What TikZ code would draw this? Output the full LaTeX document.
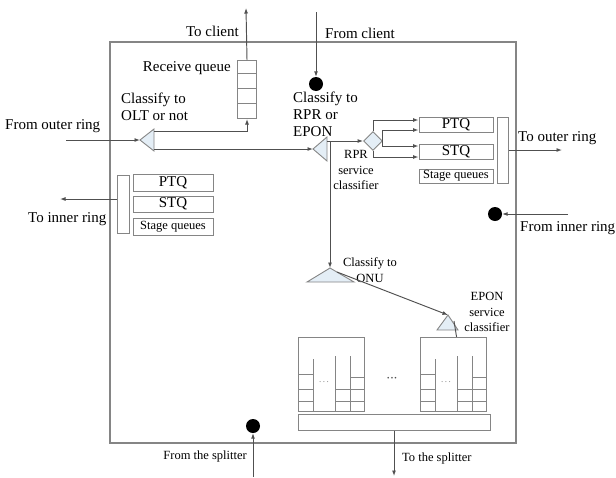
\documentclass[tikz,border=0pt]{standalone}
\usepackage{fontspec}
\setmainfont{Liberation Serif}
\newfontfamily\tnr{Liberation Serif}
\usetikzlibrary{arrows.meta,shapes.geometric}
\definecolor{edge}{HTML}{858585}
\definecolor{wire}{HTML}{505050}
\definecolor{tfill}{HTML}{E4EEF6}
\begin{document}
\begin{tikzpicture}[x=1pt,y=-1pt,
  wire/.style={draw=wire, line width=0.95pt},
  arr/.style={wire, -{Latex[length=5.5pt,width=4pt]}},
  qbox/.style={draw=edge, line width=1pt, fill=white, inner sep=0pt},
  qline/.style={draw=edge, line width=1pt},
  tri/.style={draw=edge, line width=0.9pt, fill=tfill, line join=miter},
  big/.style={font=\tnr\fontsize{15}{17}\selectfont, inner sep=0pt},
  small/.style={font=\tnr\fontsize{12.5}{15.5}\selectfont, inner sep=0pt},
  dot/.style={circle, fill=black, minimum size=14pt, inner sep=0pt}]

\useasboundingbox (0,0) rectangle (616,477);
% main box
\draw[draw=edge, line width=1.2pt] (110,42) rectangle (516,443);

% receive queue
\node[qbox, minimum width=19pt, minimum height=58pt, anchor=north west] (rq) at (237,60) {};
\foreach \yy in {73,88,103} \draw[qline] (237,\yy) -- (256,\yy);
\coordinate (clientOut) at (246,8);
\draw[arr] (rq.north) -- (clientOut);
\node[big, anchor=east] (tclient) at (239,31) {To client};
\node[big, anchor=east] (trq) at (231,68) {Receive queue};

% OLT classifier
\coordinate (olt) at (140,140);
\draw[tri] (olt) -- (154,129) -- (154,151) -- cycle;
\coordinate (outerIn) at (66,140);
\draw[arr] (outerIn) -- (olt);
\node[big, anchor=west] (touter) at (5,126) {From outer ring};
\node[big, anchor=west, align=left] (toltc) at (121,107) {Classify to\\OLT or not};
\draw[arr] (154,131) -| (rq.south);

% RPR / EPON classifier
\coordinate (rpr) at (313,149);
\draw[arr] (154,149) -- (rpr);
\draw[tri] (rpr) -- (327,137) -- (327,161) -- cycle;
\node[dot] (dclient) at (316,84) {};
\coordinate (clientIn) at (316,12);
\draw[arr] (clientIn) -- (dclient.north);
\node[big, anchor=west] (tfromc) at (325,33) {From client};
\node[big, anchor=west, align=left] (trpre) at (293,114) {Classify to\\RPR or\\EPON};

% RPR service classifier
\node[diamond, draw=edge, fill=tfill, line width=0.9pt, minimum width=19pt, minimum height=19pt, inner sep=0pt] (dia) at (373,141) {};
\draw[arr] (327,141) -- (dia.west);
\node[small, align=center] (trprs) at (356,170) {RPR\\service\\classifier};

% right queues
\node[qbox, big, minimum width=74pt, minimum height=15pt] (ptqR) at (456,125) {PTQ};
\node[qbox, big, minimum width=74pt, minimum height=15pt] (stqR) at (456,151.5) {STQ};
\node[qbox, small, minimum width=74pt, minimum height=14pt] (sqR) at (456,176) {Stage queues};
\node[qbox, minimum width=11pt, minimum height=66pt] (rbar) at (502.5,150) {};
\draw[arr] (dia.north) |- ([yshift=5pt]ptqR.west);
\draw[arr] (dia.east) |- ([yshift=-5pt]ptqR.west);
\draw[arr] (dia.east) |- ([yshift=5.5pt]stqR.west);
\draw[arr] (dia.south) |- ([yshift=-5.5pt]stqR.west);
\coordinate (outerOut) at (562,150);
\draw[arr] (rbar.east) -- (outerOut);
\node[big, anchor=west] (toout) at (518,138) {To outer ring};

% from inner ring
\node[dot] (dinner) at (495,214) {};
\coordinate (innerIn) at (568,214);
\draw[arr] (innerIn) -- (dinner.east);
\node[big, anchor=west] (tfin) at (520,228) {From inner ring};

% left queues
\node[qbox, minimum width=12pt, minimum height=58pt] (lbar) at (123,204) {};
\node[qbox, big, minimum width=80pt, minimum height=17pt] (ptqL) at (173,182.5) {PTQ};
\node[qbox, big, minimum width=80pt, minimum height=16pt] (stqL) at (173,204) {STQ};
\node[qbox, small, minimum width=80pt, minimum height=17pt] (sqL) at (173,226.5) {Stage queues};
\coordinate (innerOut) at (60,199);
\draw[arr] (lbar.west |- innerOut) -- (innerOut);
\node[big, anchor=west] (toin) at (28,219) {To inner ring};

% ONU classifier
\coordinate (onuA) at (330,268);
\draw[arr] (330,141) -- (onuA);
\draw[tri] (onuA) -- (354,282) -- (307,282) -- cycle;
\node[small, align=center] (tonu) at (370,270) {Classify to\\ONU};

% EPON service classifier
\coordinate (eponA) at (448,315);
\draw[tri] (eponA) -- (458,330) -- (437,330) -- cycle;
\draw[arr] (337,272) -- (eponA);
\node[small, align=center] (tepon) at (487,312) {EPON\\service\\classifier};
\coordinate (eponTo) at (463,377);
\draw[arr] (454,321) -- (eponTo);

% ONU queue blocks
\foreach \bx/\nm in {298/onuL,420/onuR} {
  \begin{scope}[xshift=\bx pt]
    \node[qbox, minimum width=66pt, minimum height=74pt, anchor=north west] (\nm) at (0,337) {};
    \draw[qline] (15,359) -- (15,411) (37,356) -- (37,411) (52,356) -- (52,411)
      (0,374) -- (15,374) (0,389) -- (15,389) (0,401) -- (15,401)
      (37,389) -- (66,389) (37,401) -- (66,401) (52,377) -- (66,377);
    \node[text=gray, font=\fontsize{9}{9}\selectfont, inner sep=0pt] (dots\nm) at (26,382) {.\,.\,.};
  \end{scope}
}
\node[font=\fontsize{7}{7}\selectfont, text=wire, inner sep=0pt] (mdots) at (392,379) {\textbullet\,\textbullet\,\textbullet};

% bottom bar and splitter
\node[qbox, minimum width=192pt, minimum height=16pt] (bar) at (394,422) {};
\coordinate (splitOut) at (394,476);
\draw[arr] (bar.south) -- (splitOut);
\node[small, anchor=west] (tsplit) at (402,458) {To the splitter};
\node[dot] (dsplit) at (253,426) {};
\coordinate (splitIn) at (253,477);
\draw[arr] (splitIn) -- (dsplit.south);
\node[small, anchor=east] (tfsplit) at (247,456) {From the splitter};
\end{tikzpicture}
\end{document}
